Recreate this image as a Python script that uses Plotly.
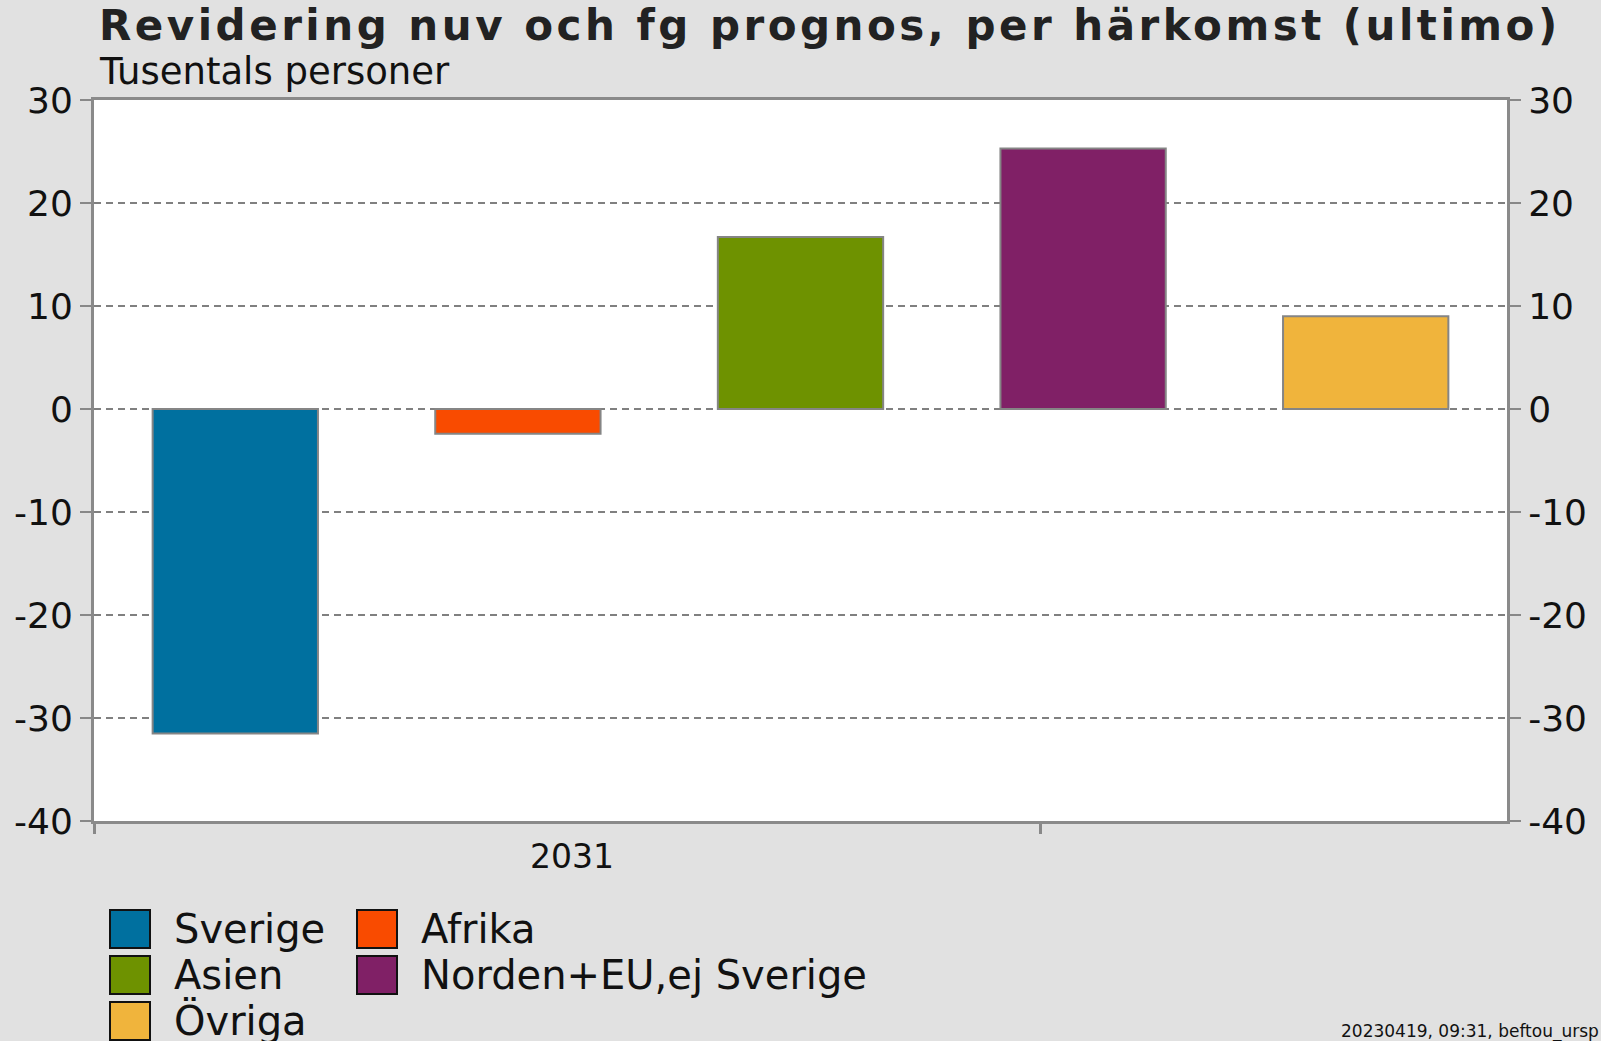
import plotly.graph_objects as go

# Data
categories = ["Sverige", "Afrika", "Asien", "Norden+EU,ej Sverige", "Övriga"]
values = [-31.5, -2.4, 16.7, 25.3, 9.0]
colors = ["#00709f", "#f94b00", "#6e9200", "#802066", "#f0b43c"]
y_ticks = [30, 20, 10, 0, -10, -20, -30, -40]
y_ticklabels = [str(v) for v in y_ticks]
period_label = "2031"

FONT = "DejaVu Sans"
W, H = 1601, 1041
L, R, T, B = 94, 94, 100, 220
pw, ph = W - L - R, H - T - B


def px_x(p):
    return (p - L) / pw


def px_y(p):
    return (H - B - p) / ph


fig = go.Figure()

for i, (cat, val, col) in enumerate(zip(categories, values, colors)):
    fig.add_trace(go.Bar(
        x=[i], y=[val], name=cat, width=0.585,
        marker=dict(color=col, line=dict(color="#858585", width=2)),
        showlegend=False,
    ))

axis_common = dict(
    range=[-40, 30], tickvals=y_ticks, ticktext=y_ticklabels,
    ticks="outside", ticklen=11, tickwidth=2, tickcolor="#888888",
    tickfont=dict(family=FONT, size=36, color="#111111"),
    showline=True, linecolor="#8a8a8a", linewidth=3, zeroline=False,
)

fig.update_layout(
    width=W, height=H,
    margin=dict(l=L, r=R, t=T, b=B),
    paper_bgcolor="#e1e1e1", plot_bgcolor="#ffffff",
    barmode="overlay",
    showlegend=False,
    xaxis=dict(
        range=[-0.5, len(categories) - 0.5],
        tickvals=[-0.5, 2.85], ticktext=["", ""],
        ticks="outside", ticklen=10, tickwidth=3, tickcolor="#888888",
        showline=True, linecolor="#8a8a8a", linewidth=3, mirror=True,
        showgrid=False, zeroline=False,
    ),
    yaxis=dict(**axis_common, mirror=True, showgrid=True,
               gridcolor="#808080", gridwidth=1.5, griddash="7px,5px"),
    yaxis2=dict(**axis_common, overlaying="y", side="right", showgrid=False),
)

# invisible trace so the right axis is drawn
fig.add_trace(go.Scatter(x=[0], y=[0], yaxis="y2", mode="markers",
                         marker=dict(opacity=0), showlegend=False, hoverinfo="skip"))

# Title and subtitle
fig.add_annotation(text="<b>Revidering nuv och fg prognos, per härkomst (ultimo)</b>",
                   xref="paper", yref="paper", x=px_x(97), y=px_y(25),
                   xanchor="left", yanchor="middle", showarrow=False,
                   font=dict(family=FONT, size=42, color="#222222"))
fig.add_annotation(text="Tusentals personer",
                   xref="paper", yref="paper", x=px_x(97), y=px_y(71),
                   xanchor="left", yanchor="middle", showarrow=False,
                   font=dict(family=FONT, size=37, color="#111111"))

# Period label on the category axis
fig.add_annotation(text=period_label, xref="x", yref="paper", x=1.19, y=px_y(856),
                   xanchor="center", yanchor="middle", showarrow=False,
                   font=dict(family=FONT, size=33, color="#111111"))

# Legend (large swatches, two columns)
col_x = [110, 357]
row_y = [929, 975, 1021]
for i, (cat, col) in enumerate(zip(categories, colors)):
    cx = col_x[i % 2]
    cy = row_y[i // 2]
    fig.add_shape(type="rect", xref="paper", yref="paper",
                  x0=px_x(cx), x1=px_x(cx + 40), y0=px_y(cy - 19), y1=px_y(cy + 19),
                  fillcolor=col, line=dict(color="#111111", width=2))
    fig.add_annotation(text=cat, xref="paper", yref="paper",
                       x=px_x(cx + 62), y=px_y(cy), xanchor="left", yanchor="middle",
                       showarrow=False, font=dict(family=FONT, size=40, color="#111111"))

# Footer stamp
fig.add_annotation(text="20230419, 09:31, beftou_ursp", xref="paper", yref="paper",
                   x=px_x(W), y=px_y(1031), xanchor="right", yanchor="middle",
                   showarrow=False, font=dict(family=FONT, size=17, color="#111111"))

# title in the original is letter-spaced; widen it but keep its left edge
post = """
document.body.style.margin = '0';
var t = document.querySelectorAll('.annotation-text')[0];
if (t) {
  var x0 = t.getBoundingClientRect().left;
  t.style.letterSpacing = '3.5px';
  var x1 = t.getBoundingClientRect().left;
  t.setAttribute('transform', 'translate(' + (x0 - x1) + ',0)');
}
"""
fig.write_html("out.html", config={"displayModeBar": False}, post_script=post)
